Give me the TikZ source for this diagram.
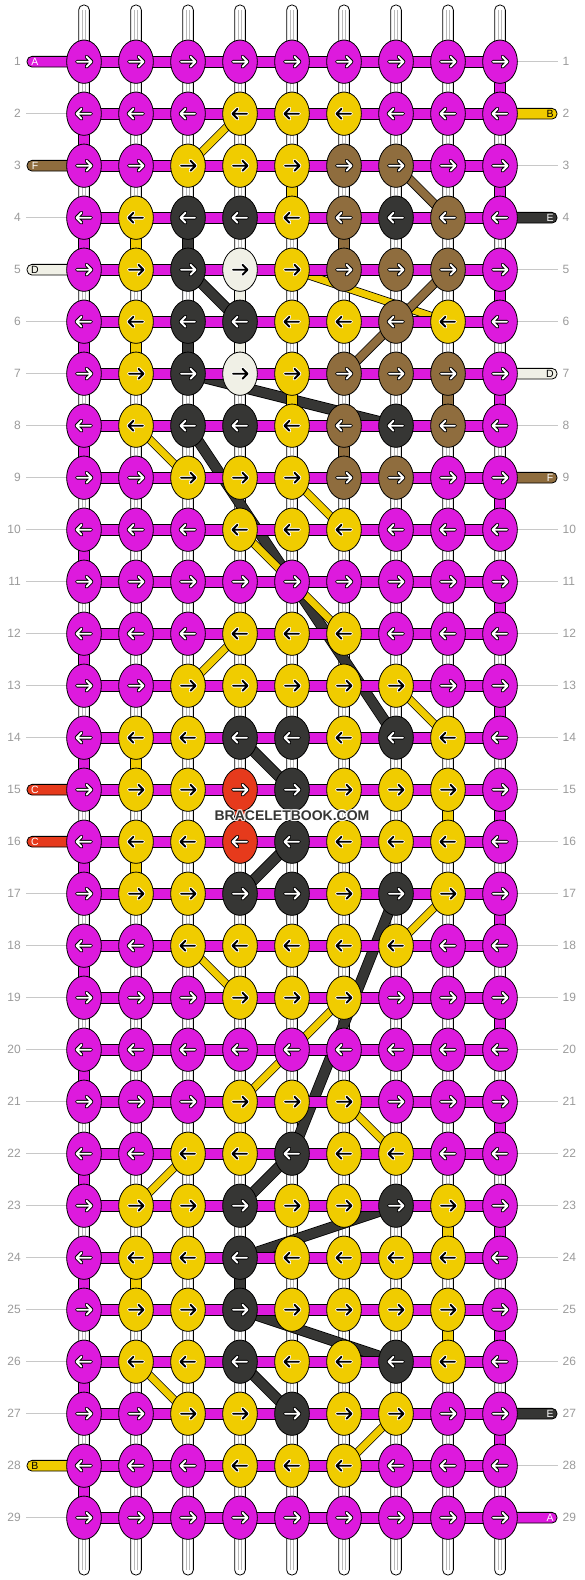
\documentclass[tikz,border=0pt]{standalone}
\usepackage{fontspec}
\setmainfont{Liberation Sans}
\usetikzlibrary{shapes.geometric}
\definecolor{M}{RGB}{221,26,221}
\definecolor{Y}{RGB}{240,204,0}
\definecolor{K}{RGB}{54,54,52}
\definecolor{B}{RGB}{143,109,62}
\definecolor{W}{RGB}{240,240,230}
\definecolor{R}{RGB}{230,58,28}
\definecolor{guide}{RGB}{200,200,200}
\definecolor{numc}{RGB}{155,155,155}
\definecolor{sline}{RGB}{185,185,185}
\colorlet{Ma}{white}\colorlet{Mo}{black}
\colorlet{Ka}{white}\colorlet{Ko}{black}
\colorlet{Ba}{white}\colorlet{Bo}{black}
\colorlet{Ra}{white}\colorlet{Ro}{black}
\colorlet{Ya}{black}\colorlet{Yo}{white}
\colorlet{Wa}{black}\colorlet{Wo}{white}
\tikzset{
  knot/.style={ellipse, draw=black, line width=0.8pt, minimum width=34.7pt, minimum height=43.3pt, inner sep=0pt, outer sep=0pt},
  seg/.style={draw=black, line width=0.8pt},
  strandw/.style={fill=white, draw=black, line width=0.8pt, rounded corners=5pt},
  strandl/.style={draw=sline, line width=0.7pt},
  guideline/.style={draw=guide, line width=1pt},
  num/.style={text=numc, font=\fontsize{12pt}{14pt}\selectfont, inner sep=0pt},
  stubtext/.style={font=\fontsize{10.5pt}{12pt}\selectfont, inner sep=0pt},
  wm/.style={font=\fontsize{14pt}{16pt}\selectfont\bfseries, inner sep=0pt}
}
\def\rowsdata{1/{M,M,M,M,M,M,M,M,M},
2/{M,M,M,Y,Y,Y,M,M,M},
3/{M,M,Y,Y,Y,B,B,M,M},
4/{M,Y,K,K,Y,B,K,B,M},
5/{M,Y,K,W,Y,B,B,B,M},
6/{M,Y,K,K,Y,Y,B,Y,M},
7/{M,Y,K,W,Y,B,B,B,M},
8/{M,Y,K,K,Y,B,K,B,M},
9/{M,M,Y,Y,Y,B,B,M,M},
10/{M,M,M,Y,Y,Y,M,M,M},
11/{M,M,M,M,M,M,M,M,M},
12/{M,M,M,Y,Y,Y,M,M,M},
13/{M,M,Y,Y,Y,Y,Y,M,M},
14/{M,Y,Y,K,K,Y,K,Y,M},
15/{M,Y,Y,R,K,Y,Y,Y,M},
16/{M,Y,Y,R,K,Y,Y,Y,M},
17/{M,Y,Y,K,K,Y,K,Y,M},
18/{M,M,Y,Y,Y,Y,Y,M,M},
19/{M,M,M,Y,Y,Y,M,M,M},
20/{M,M,M,M,M,M,M,M,M},
21/{M,M,M,Y,Y,Y,M,M,M},
22/{M,M,Y,Y,K,Y,Y,M,M},
23/{M,Y,Y,K,Y,Y,K,Y,M},
24/{M,Y,Y,K,Y,Y,Y,Y,M},
25/{M,Y,Y,K,Y,Y,Y,Y,M},
26/{M,Y,Y,K,Y,Y,K,Y,M},
27/{M,M,Y,Y,K,Y,Y,M,M},
28/{M,M,M,Y,Y,Y,M,M,M},
29/{M,M,M,M,M,M,M,M,M}}
\begin{document}
\begin{tikzpicture}[x=1pt,y=-1pt]
\useasboundingbox (0,0) rectangle (584,1580);
\fill[white] (0,0) rectangle (584,1580);
% coordinates
\foreach \r in {1,...,29}{
  \pgfmathsetmacro\yy{61.7+52*(\r-1)}
  \coordinate (ln-\r) at (21,\yy);
  \coordinate (lg-\r) at (26,\yy);
  \coordinate (ls-\r) at (27,\yy);
  \coordinate (rs-\r) at (557,\yy);
  \coordinate (rg-\r) at (558,\yy);
  \coordinate (rn-\r) at (562.5,\yy);
  \foreach \c in {1,...,9}{
    \pgfmathsetmacro\xx{84+52*(\c-1)}
    \coordinate (p-\r-\c) at (\xx,\yy);
  }
}
% white vertical strands
\foreach \c in {1,...,9}{
  \pgfmathsetmacro\xx{84+52*(\c-1)}
  \coordinate (top-\c) at (\xx,5);
  \coordinate (bot-\c) at (\xx,1575);
  \draw[strandw] ([xshift=-5.35pt]top-\c) rectangle ([xshift=5.35pt]bot-\c);
  \draw[strandl] ([xshift=-1.5pt,yshift=-5pt]top-\c) -- ([xshift=-1.5pt,yshift=5pt]bot-\c);
  \draw[strandl] ([xshift=1.5pt,yshift=-5pt]top-\c) -- ([xshift=1.5pt,yshift=5pt]bot-\c);
}
% guide lines to row numbers
\foreach \r in {2,4,6,7,8,9,10,11,12,13,14,17,18,19,20,21,22,23,24,25,26,27,29}
  \draw[guideline] (lg-\r) -- (p-\r-1);
\foreach \r in {1,3,5,6,8,10,11,12,13,14,15,16,17,18,19,20,21,22,23,24,25,26,28}
  \draw[guideline] (p-\r-9) -- (rg-\r);
% diagonal strands
\foreach \ra/\ca/\rb/\cb/\kc/\w in {
  2/4/3/3/Y/6.8, 3/7/4/8/B/7.8, 5/3/6/4/K/9.4, 5/5/6/8/Y/6.8, 5/8/6/7/B/7.8,
  6/7/7/6/B/7.8, 7/3/8/7/K/9.4, 8/2/9/3/Y/6.8, 8/3/14/7/K/9.4, 9/5/10/6/Y/6.8,
  10/4/12/6/Y/6.8, 12/4/13/3/Y/6.8, 13/7/14/8/Y/6.8, 14/4/15/5/K/9.4,
  16/5/17/4/K/9.4, 17/7/22/5/K/9.4, 17/8/18/7/Y/6.8, 18/3/19/4/Y/6.8,
  19/6/21/4/Y/6.8, 21/6/22/7/Y/6.8, 22/3/23/2/Y/6.8, 22/5/23/4/K/9.4,
  23/7/24/4/K/9.4, 25/4/26/7/K/9.4, 26/2/27/3/Y/6.8, 26/4/27/5/K/9.4,
  27/7/28/6/Y/6.8}{
  \draw[line width=\w pt+1.6pt, black] (p-\ra-\ca) -- (p-\rb-\cb);
  \draw[line width=\w pt, \kc] (p-\ra-\ca) -- (p-\rb-\cb);
}
% coloured vertical segments (edge turns and carried strands)
\foreach \r/\rr/\c/\kc in {1/2/9/M, 2/3/1/M, 3/4/9/M, 4/5/1/M, 5/6/9/M, 6/7/1/M,
  7/8/9/M, 8/9/1/M, 9/10/9/M, 10/11/1/M, 11/12/9/M, 12/13/1/M, 13/14/9/M,
  14/15/1/M, 15/16/9/M, 16/17/1/M, 17/18/9/M, 18/19/1/M, 19/20/9/M, 20/21/1/M,
  21/22/9/M, 22/23/1/M, 23/24/9/M, 24/25/1/M, 25/26/9/M, 26/27/1/M, 27/28/9/M,
  28/29/1/M,
  3/4/5/Y, 4/5/2/Y, 4/5/3/K, 4/5/6/B, 5/6/4/W, 6/7/2/Y, 6/7/3/K, 6/7/4/W,
  7/8/5/Y, 7/8/8/B, 8/9/6/B, 14/15/2/Y, 15/16/8/Y, 15/16/4/R, 16/17/2/Y,
  23/24/8/Y, 24/25/2/Y, 24/25/4/K, 25/26/8/Y}{
  \draw[seg, fill=\kc] ([xshift=-5.35pt]p-\r-\c) rectangle ([xshift=5.35pt]p-\rr-\c);
}
% horizontal bars
\foreach \r in {1,...,29}
  \draw[seg, fill=M] ([yshift=5.35pt]p-\r-1) rectangle ([yshift=-5.35pt]p-\r-9);
% stubs
\foreach \r/\kc/\t in {1/M/A, 3/B/F, 5/W/D, 15/R/C, 16/R/C, 28/Y/B}{
  \draw[seg, fill=\kc, rounded corners=5pt] ([yshift=5.35pt]ls-\r) rectangle ([yshift=-5.35pt]p-\r-1);
  \node[stubtext, text=\kc a] (lt-\r) at ([xshift=8pt]ls-\r) {\t};
}
\foreach \r/\kc/\t in {2/Y/B, 4/K/E, 7/W/D, 9/B/F, 27/K/E, 29/M/A}{
  \draw[seg, fill=\kc, rounded corners=5pt] ([yshift=5.35pt]p-\r-9) rectangle ([yshift=-5.35pt]rs-\r);
  \node[stubtext, text=\kc a] (rt-\r) at ([xshift=-7pt]rs-\r) {\t};
}
% knots
\foreach \r/\cols in \rowsdata {
  \pgfmathtruncatemacro\d{1-2*mod(\r+1,2)}
  \foreach \kc [count=\c] in \cols {
    \edef\ac{\kc a}\edef\oc{\kc o}
    \node[knot, fill=\kc] (k-\r-\c) at (p-\r-\c) {};
    \begin{scope}[shift={(p-\r-\c)}, xscale=\d]
      \draw[line width=3.9pt, \oc, line cap=round, line join=round] (-7,0) -- (7.5,0) (2.5,-5) -- (7.5,0) -- (2.5,5);
      \draw[line width=1.9pt, \ac, line cap=round, line join=round] (-7,0) -- (7.5,0) (2.5,-5) -- (7.5,0) -- (2.5,5);
    \end{scope}
  }
}
% row numbers
\foreach \r in {1,...,29}{
  \node[num, anchor=east] (nl-\r) at (ln-\r) {\r};
  \node[num, anchor=west] (nr-\r) at (rn-\r) {\r};
}
% watermark
\coordinate (wmc) at (292,816);
\foreach \dx/\dy [count=\i] in {1/0,-1/0,0/1,0/-1,1/1,1/-1,-1/1,-1/-1}
  \node[wm, text=white, opacity=0.7] (wmh-\i) at ([xshift=\dx pt, yshift=\dy pt]wmc) {BRACELETBOOK.COM};
\node[wm, text=K] (wm) at (wmc) {BRACELETBOOK.COM};
\end{tikzpicture}
\end{document}
